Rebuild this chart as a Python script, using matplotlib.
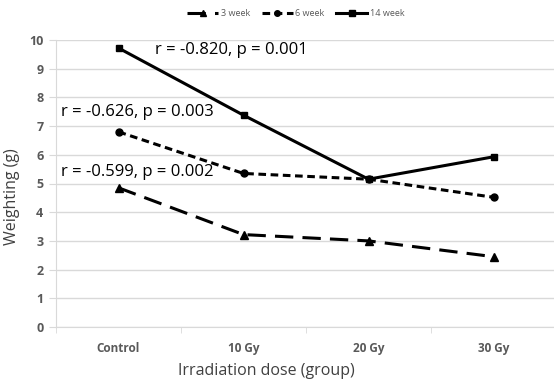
import matplotlib
matplotlib.use("Agg")
import matplotlib.pyplot as plt

plt.rcParams['font.family'] = ['Open Sans', 'DejaVu Sans']

categories = ["Control", "10 Gy", "20 Gy", "30 Gy"]
series_names = ["3 week", "6 week", "14 week"]
week3 = [4.85, 3.22, 3.0, 2.45]
week6 = [6.8, 5.35, 5.15, 4.52]
week14 = [9.72, 7.38, 5.15, 5.93]
yticks = list(range(0, 11))
annotations = ["r = -0.820, p = 0.001", "r = -0.626, p = 0.003", "r = -0.599, p = 0.002"]

fig = plt.figure(figsize=(5.54, 3.88), dpi=100)
ax = fig.add_axes([56 / 554, 1 - 327 / 388, 500 / 554, 287 / 388])

x = list(range(len(categories)))
ax.plot(x, week3, color='black', lw=2.2, linestyle=(0, (6, 3)), marker='^', ms=5.5, label=series_names[0])
ax.plot(x, week6, color='black', lw=2.2, linestyle=(0, (2.5, 1.5)), marker='o', ms=5, label=series_names[1])
ax.plot(x, week14, color='black', lw=2.2, linestyle='-', marker='s', ms=5, label=series_names[2])

ax.set_xlim(-0.5, 3.5)
ax.set_ylim(0, 10)
ax.set_yticks(yticks)
ax.set_xticks(x)
ax.set_xticklabels(categories)
ax.set_xticks([-0.5, 0.5, 1.5, 2.5, 3.5], minor=True)
ax.tick_params(axis='x', which='major', length=0, pad=11, labelsize=8.5, labelcolor='#595959')
ax.tick_params(axis='x', which='minor', length=4, color='#d9d9d9')
ax.tick_params(axis='y', length=5, color='#d9d9d9', labelsize=9, labelcolor='#595959', pad=4)
for lab in ax.get_xticklabels() + ax.get_yticklabels():
    lab.set_fontweight('bold')

ax.grid(axis='y', color='#d9d9d9', lw=1)
ax.set_axisbelow(True)
for s in ['top', 'right']:
    ax.spines[s].set_visible(False)
ax.spines['left'].set_color('#d9d9d9')
ax.spines['bottom'].set_color('#d9d9d9')

ax.set_xlabel("Irradiation dose (group)", fontsize=11.5, color='#404040')
ax.xaxis.set_label_coords(0.42, -0.125)
ax.set_ylabel("Weighting (g)", fontsize=11.5, color='#404040')
ax.yaxis.set_label_coords(-0.072, 0.455)

ax.text(0.29, 9.65, annotations[0], fontsize=12, va='center', ha='left')
ax.text(-0.46, 7.49, annotations[1], fontsize=12, va='center', ha='left')
ax.text(-0.46, 5.40, annotations[2], fontsize=12, va='center', ha='left')

leg = fig.legend(loc='center', bbox_to_anchor=(0.534, 0.964), ncol=3, frameon=False,
                 fontsize=6.5, handlelength=3.4, columnspacing=1.3, handletextpad=0.3,
                 markerscale=0.8)
for t in leg.get_texts():
    t.set_color('#595959')

fig.savefig("out.png", dpi=100)
